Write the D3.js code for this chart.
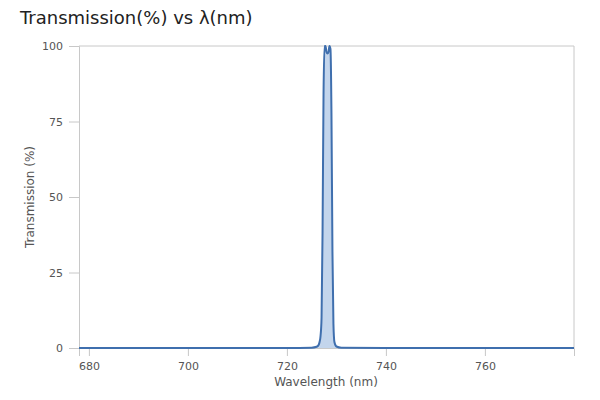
<!DOCTYPE html>
<html>
<head>
<meta charset="utf-8">
<script src="https://cdn.jsdelivr.net/npm/d3@7"></script>
<style>
  body { margin: 0; background: #fff; }
  svg { font-family: "DejaVu Sans", "Open Sans", sans-serif; }
</style>
</head>
<body>
<svg id="chart" width="600" height="400"></svg>
<script>
// Filter transmission curve
const wavelengths = [678, 720, 725, 726, 726.4, 726.6, 726.8, 727.0, 727.2, 727.4, 727.6, 727.8,
    728.0, 728.2, 728.4, 728.6, 728.8, 729.0, 729.2, 729.4, 729.6, 730, 731, 740, 778];
const transmission = [0, 0, 0.1, 0.4, 1, 2, 4, 10, 38, 84, 100, 100,
    98, 97.5, 98, 100, 99, 78, 32, 8, 2, 0.5, 0.1, 0, 0];
const xTicks = [680, 700, 720, 740, 760];
const yTicks = [0, 25, 50, 75, 100];

const data = wavelengths.map((w, i) => ({ w: w, t: transmission[i] }));

const width = 600,
    height = 400,
    margin = { top: 46, right: 26, bottom: 52, left: 79 };

const svg = d3.select("#chart");

const x = d3.scaleLinear()
    .domain([678, 778])
    .range([margin.left, width - margin.right]);

const y = d3.scaleLinear()
    .domain([0, 100])
    .range([height - margin.bottom, margin.top]);

// title
svg.append("text")
    .attr("x", 20)
    .attr("y", 24)
    .attr("font-size", 18)
    .attr("fill", "#222")
    .text("Transmission(%) vs λ(nm)");

// plot frame (top and right)
svg.append("path")
    .attr("d", `M${x.range()[0]},${y(100)}H${x.range()[1]}V${y(0)}`)
    .attr("fill", "none")
    .attr("stroke", "#c8c8c8")
    .attr("stroke-width", 1);

// y axis
const yAxis = svg.append("g")
    .attr("transform", `translate(${margin.left},0)`)
    .call(d3.axisLeft(y).tickValues(yTicks).tickSize(10).tickPadding(6));

// x axis
const xAxis = svg.append("g")
    .attr("transform", `translate(0,${height - margin.bottom})`)
    .call(d3.axisBottom(x).tickValues(xTicks).tickSize(8).tickPadding(6).tickFormat(d3.format("d")));

[yAxis, xAxis].forEach(g => {
    g.select(".domain").attr("stroke", "#c8c8c8");
    g.selectAll(".tick line").attr("stroke", "#c8c8c8");
    g.selectAll(".tick text")
        .attr("fill", "#555")
        .attr("font-size", 11)
        .attr("font-family", "DejaVu Sans, sans-serif");
});

// axis titles
svg.append("text")
    .attr("transform", `translate(34,${(y(0) + y(100)) / 2}) rotate(-90)`)
    .attr("text-anchor", "middle")
    .attr("font-size", 12)
    .attr("fill", "#555")
    .text("Transmission (%)");

svg.append("text")
    .attr("x", 326)
    .attr("y", 386)
    .attr("text-anchor", "middle")
    .attr("font-size", 12)
    .attr("fill", "#555")
    .text("Wavelength (nm)");

// area + line
const area = d3.area()
    .x(d => x(d.w))
    .y0(y(0))
    .y1(d => y(d.t))
    .curve(d3.curveMonotoneX);

const line = d3.line()
    .x(d => x(d.w))
    .y(d => y(d.t))
    .curve(d3.curveMonotoneX);

svg.append("path")
    .datum(data)
    .attr("d", area)
    .attr("fill", "#c3d5ec");

svg.append("path")
    .datum(data)
    .attr("d", line)
    .attr("fill", "none")
    .attr("stroke", "#3f6fae")
    .attr("stroke-width", 2);
</script>
</body>
</html>
